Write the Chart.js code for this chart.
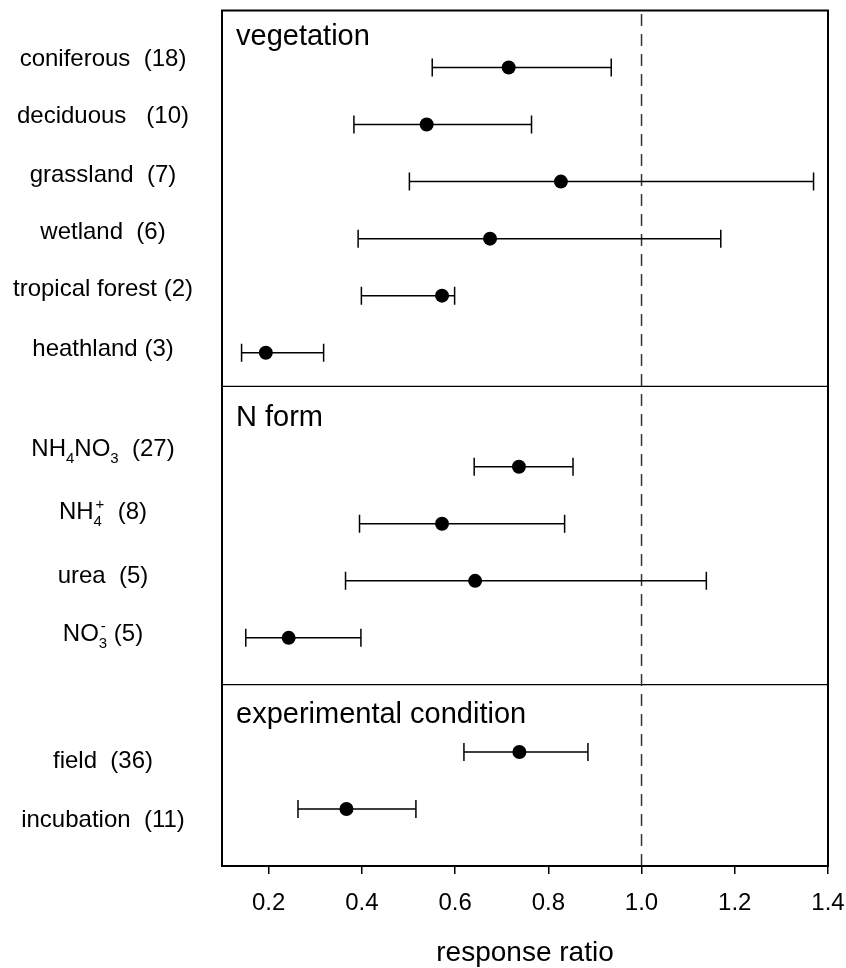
<!DOCTYPE html>
<html>
<head>
<meta charset="utf-8">
<script src="https://cdn.jsdelivr.net/npm/chart.js@4.4.1/dist/chart.umd.min.js"></script>
<style>
  body { margin: 0; background: #fff; }
  #wrap { width: 846px; height: 968px; }
</style>
</head>
<body>
<div id="wrap"><canvas id="forestChart" width="846" height="968"></canvas></div>
<script>
// categories (_x = subscript, ^x = superscript)
const categories = ['coniferous  (18)', 'deciduous   (10)', 'grassland  (7)', 'wetland  (6)',
  'tropical forest (2)', 'heathland (3)', 'NH_4NO_3  (27)', 'NH_4^+  (8)', 'urea  (5)',
  'NO_3^- (5)', 'field  (36)', 'incubation  (11)'];
const rows = [14, 13, 12, 11, 10, 9, 7, 6, 5, 4, 2, 1];
const means = [0.715, 0.539, 0.827, 0.675, 0.572, 0.194, 0.737, 0.572, 0.643, 0.243, 0.738, 0.367];
const lower = [0.551, 0.383, 0.502, 0.392, 0.399, 0.142, 0.641, 0.395, 0.365, 0.151, 0.619, 0.263];
const upper = [0.935, 0.764, 1.369, 1.170, 0.599, 0.318, 0.853, 0.835, 1.139, 0.398, 0.885, 0.516];
const groups = ['vegetation', 'N form', 'experimental condition'];
const tickValues = [0.2, 0.4, 0.6, 0.8, 1.0, 1.2, 1.4];
const refValue = 1.0;

// layout (y in row units)
const labelY = [14.03, 13.02, 12.0, 10.99, 9.99, 8.94, 7.19, 6.09, 4.97, 3.95, 1.71, 0.69];
const groupY = [14.39, 7.71, 2.50];
const dividerY = [8.41, 3.18];

const FONT = '"Liberation Sans", Arial, sans-serif';

// error bar segments, broken by null points
const whiskers = [];
rows.forEach((r, i) => {
  whiskers.push({x: lower[i], y: r}, {x: upper[i], y: r}, {x: null, y: null});
});
const dividerData = [];
dividerY.forEach(d => dividerData.push({x: 0.1, y: d}, {x: 1.4, y: d}, {x: null, y: null}));

function tokens(str) {
  const out = [];
  let buf = '';
  for (let i = 0; i < str.length; i++) {
    const c = str[i];
    if ((c === '_' || c === '^') && i + 1 < str.length) {
      if (buf) { out.push({t: buf, m: 'n'}); buf = ''; }
      out.push({t: str[i + 1], m: c === '_' ? 'sub' : 'sup'});
      i++;
    } else buf += c;
  }
  if (buf) out.push({t: buf, m: 'n'});
  return out;
}

function drawRich(ctx, str, cx, y) {
  const big = '24px ' + FONT, small = '15px ' + FONT;
  const toks = tokens(str);
  let w = 0, prevSub = null;
  const pos = [];
  toks.forEach(tk => {
    ctx.font = tk.m === 'n' ? big : small;
    const tw = ctx.measureText(tk.t).width;
    if (tk.m === 'sup' && prevSub) {
      pos.push(prevSub.x + 2);
      w += Math.max(0, tw + 2 - prevSub.w);
      prevSub = null;
    } else {
      pos.push(w);
      prevSub = tk.m === 'sub' ? {x: w, w: tw} : null;
      w += tw;
    }
  });
  const x0 = cx - w / 2;
  toks.forEach((tk, i) => {
    ctx.font = tk.m === 'n' ? big : small;
    const dy = tk.m === 'sub' ? 7 : tk.m === 'sup' ? -10 : 0;
    ctx.fillText(tk.t, x0 + pos[i], y + dy);
  });
}

const annotate = {
  id: 'annotate',
  afterDraw(chart) {
    const {ctx, chartArea: a, scales: {y}} = chart;
    ctx.save();
    ctx.fillStyle = '#000';
    ctx.textBaseline = 'alphabetic';
    ctx.textAlign = 'left';
    categories.forEach((c, i) => drawRich(ctx, c, 103, y.getPixelForValue(labelY[i])));
    ctx.font = '29px ' + FONT;
    groups.forEach((g, i) => ctx.fillText(g, a.left + 14, y.getPixelForValue(groupY[i])));
    ctx.strokeStyle = '#000';
    ctx.lineWidth = 2;
    ctx.strokeRect(a.left, a.top, a.right - a.left, a.bottom - a.top);
    ctx.restore();
  }
};

const ctx = document.getElementById('forestChart').getContext('2d');
const forestChart = new Chart(ctx, {
  type: 'scatter',
  data: {
    datasets: [{
      label: 'mean',
      data: rows.map((r, i) => ({x: means[i], y: r})),
      pointRadius: 7,
      pointBackgroundColor: '#000',
      pointBorderWidth: 0,
      order: 0
    }, {
      label: 'CI',
      data: whiskers,
      showLine: true,
      spanGaps: false,
      borderColor: '#000',
      borderWidth: 1.5,
      pointStyle: 'line',
      pointRotation: 90,
      pointRadius: 9,
      pointBorderColor: '#000',
      pointBorderWidth: 1.5,
      order: 1
    }, {
      label: 'ref',
      data: [{x: refValue, y: 0}, {x: refValue, y: 15}],
      showLine: true,
      borderColor: '#333',
      borderWidth: 1.5,
      borderDash: [12, 8],
      pointRadius: 0,
      order: 2
    }, {
      label: 'dividers',
      data: dividerData,
      showLine: true,
      spanGaps: false,
      borderColor: '#000',
      borderWidth: 1.2,
      pointRadius: 0,
      order: 3
    }]
  },
  options: {
    responsive: false,
    animation: false,
    layout: { padding: { left: 222, right: 18, top: 8, bottom: 0 } },
    plugins: { legend: { display: false }, tooltip: { enabled: false } },
    scales: {
      x: {
        type: 'linear',
        min: 0.1,
        max: 1.4,
        afterBuildTicks: s => { s.ticks = tickValues.map(v => ({value: v})); },
        afterFit: s => { s.height = 102; s.paddingLeft = 0; s.paddingRight = 0; },
        ticks: {
          color: '#000',
          padding: 15,
          maxRotation: 0,
          font: { family: FONT, size: 24 },
          callback: v => Number(v).toFixed(1)
        },
        grid: { drawOnChartArea: false, drawTicks: true, tickLength: 8, color: '#000', lineWidth: 1.5 },
        border: { display: true, color: '#000', width: 2 },
        title: {
          display: true,
          text: 'response ratio',
          color: '#000',
          font: { family: FONT, size: 28 },
          padding: { top: 20, bottom: -2 }
        }
      },
      y: {
        type: 'linear',
        display: false,
        min: 0,
        max: 15
      }
    }
  },
  plugins: [annotate]
});
</script>
</body>
</html>
